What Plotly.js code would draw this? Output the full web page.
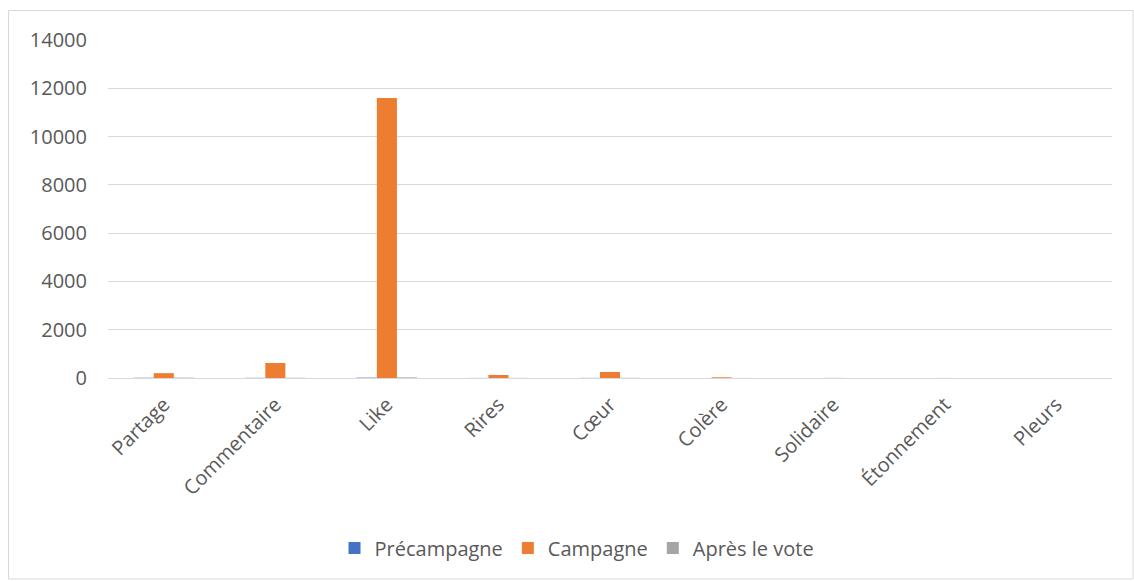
<!DOCTYPE html>
<html><head><meta charset="utf-8">
<script src="https://cdn.plot.ly/plotly-3.0.1.min.js"></script>
<style>body{margin:0;background:#fff}#c{width:1134px;height:581px}</style>
</head><body><div id="c"></div>
<script>
var categories = ["Partage","Commentaire","Like","Rires","Cœur","Colère","Solidaire","Étonnement","Pleurs"];
var precampagne = [10, 8, 15, 3, 5, 1, 0, 0, 0];
var campagne = [200, 620, 11600, 125, 250, 30, 5, 2, 1];
var apresVote = [15, 10, 25, 5, 8, 2, 1, 0, 0];
var yTicks = [0,2000,4000,6000,8000,10000,12000,14000];

var W=1134,H=581, L=108, R=22, T=40, B=203;
function px(x){return (x-L)/(W-L-R);}
function py(y){return 1-(y-T)/(H-T-B);}

var traces = [
 {name:"Précampagne", x:categories, y:precampagne, type:"bar", marker:{color:"#4472C4"}},
 {name:"Campagne", x:categories, y:campagne, type:"bar", marker:{color:"#ED7D31"}},
 {name:"Après le vote", x:categories, y:apresVote, type:"bar", marker:{color:"#A5A5A5"}}
];
var layout = {
 width:W, height:H,
 margin:{l:L, r:R, t:T, b:B},
 paper_bgcolor:"#fff", plot_bgcolor:"#fff",
 font:{family:"Open Sans, Liberation Sans, sans-serif", size:20, color:"#595959"},
 barmode:"group", bargap:0.46, bargroupgap:0,
 showlegend:true,
 legend:{orientation:"h", x:px(577), xanchor:"center", y:py(548), yanchor:"middle",
   font:{size:20,color:"#595959"}, itemwidth:30, traceorder:"normal"},
 xaxis:{tickangle:-45, showgrid:false, showline:true, linecolor:"#D9D9D9", linewidth:1,
   ticks:"", tickfont:{size:20,color:"#595959"}, zeroline:false, ticklabelstandoff:6},
 yaxis:{range:[0,14000], tickvals:yTicks, ticktext:yTicks.map(String), showgrid:true,
   gridcolor:"#D9D9D9", gridwidth:1, zeroline:false, showline:false, ticks:"",
   tickfont:{size:20,color:"#595959"}, ticklabelstandoff:20},
 shapes:[{type:"rect", xref:"paper", yref:"paper", x0:px(8.5), x1:px(1133), y0:py(10.5), y1:py(579),
   line:{color:"#D9D9D9", width:1}, fillcolor:"rgba(0,0,0,0)", layer:"below"}]
};
Plotly.newPlot("c", traces, layout, {displayModeBar:false, staticPlot:true});
</script></body></html>
